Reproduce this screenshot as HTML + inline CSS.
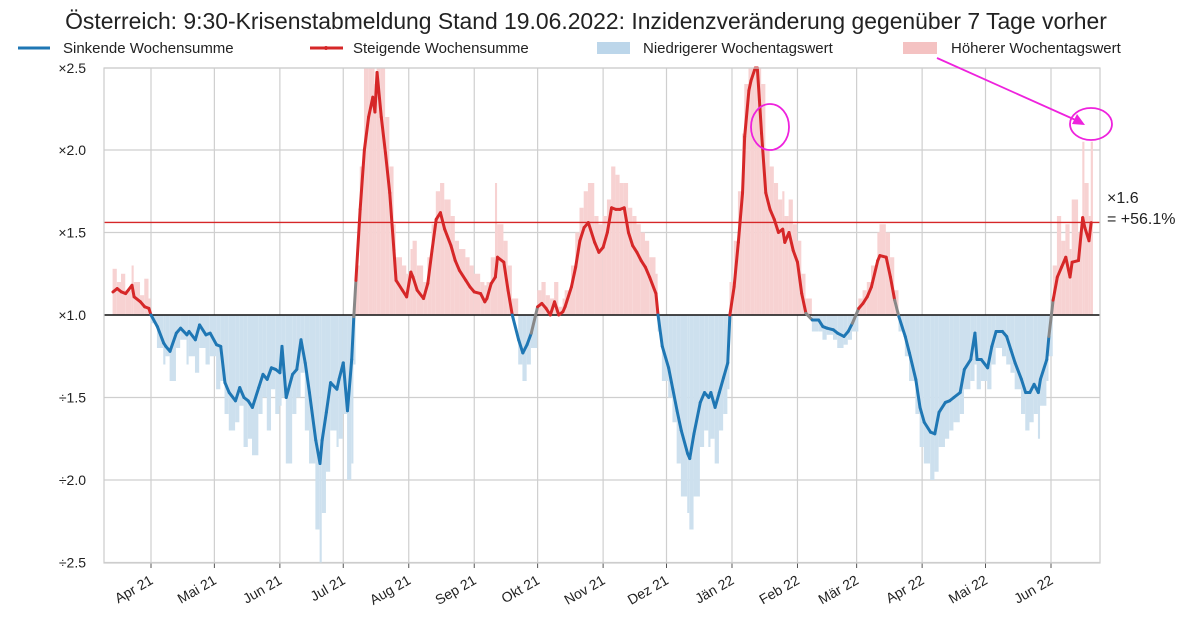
<!DOCTYPE html>
<html><head><meta charset="utf-8"><style>
body{margin:0;background:#fff;width:1200px;height:632px;overflow:hidden;font-family:"Liberation Sans",sans-serif}
</style></head><body>
<svg id="chart" width="1200" height="632" xmlns="http://www.w3.org/2000/svg" font-family="Liberation Sans, sans-serif">
<text x="586" y="29" font-size="22.9" text-anchor="middle" fill="#222">Österreich: 9:30-Krisenstabmeldung Stand 19.06.2022: Inzidenzveränderung gegenüber 7 Tage vorher</text>
<g font-size="15" fill="#222">
<line x1="18" y1="48" x2="50" y2="48" stroke="#1f77b4" stroke-width="3"/>
<text x="63" y="53">Sinkende Wochensumme</text>
<line x1="310" y1="48" x2="343" y2="48" stroke="#d62728" stroke-width="3"/>
<circle cx="326" cy="48" r="2" fill="#d62728"/>
<text x="353" y="53">Steigende Wochensumme</text>
<rect x="597" y="42" width="33" height="12" fill="#bcd6ea"/>
<text x="643" y="53">Niedrigerer Wochentagswert</text>
<rect x="903" y="42" width="34" height="12" fill="#f4c2c2"/>
<text x="951" y="53">Höherer Wochentagswert</text>
</g>
<g id="grid"></g><g id="bars"></g><g id="lines"></g><g id="axes"></g>
<rect x="104" y="68" width="996" height="495" fill="none" stroke="#ccc" stroke-width="1.2"/>
<text x="1107" y="203" font-size="16" fill="#222">×1.6</text>
<text x="1107" y="224" font-size="16" fill="#222">= +56.1%</text>
<g stroke="#ee22dd" stroke-width="1.8" fill="none">
<ellipse cx="770" cy="127" rx="19" ry="23"/>
<ellipse cx="1091" cy="124" rx="21" ry="16"/>
<line x1="937" y1="58" x2="1080" y2="122"/>
<polygon points="1085,125 1072,124 1077,114" fill="#ee22dd" stroke="none"/>
</g>
</svg>
<script>
// days since 1 Apr 2021; values: +v means ×(1+v), -v means ÷(1+v)
const days=[-18,-16,-14,-12,-9,-8,-5,-3,-1,0,3,6,7,9,12,14,17,18,21,23,26,28,31,33,35,37,40,42,44,46,48,51,53,55,57,59,61,62,64,67,69,71,73,75,78,80,81,83,85,88,89,91,93,95,96,97,99,101,103,105,106,107,109,111,113,115,116,119,121,123,124,126,129,131,133,135,137,139,142,144,146,149,151,153,156,158,159,161,163,164,167,169,171,174,176,178,180,183,185,187,189,191,193,195,196,199,201,203,205,207,210,212,214,216,218,220,222,224,226,228,230,232,234,236,239,240,242,245,247,249,251,254,255,257,260,262,264,265,267,269,271,273,274,276,278,280,281,283,284,286,287,288,289,291,293,295,297,299,300,302,304,306,308,310,313,316,318,320,323,325,328,330,332,335,337,339,341,344,345,348,350,352,354,357,359,362,364,366,369,371,373,376,378,380,383,385,388,390,391,393,396,398,400,403,405,407,409,412,414,416,418,420,421,424,425,427,429,431,433,435,436,439,441,442,444,445];
const weekly=[.14,.16,.14,.13,.18,.11,.08,.05,.04,0,-.07,-.17,-.19,-.22,-.11,-.08,-.12,-.10,-.15,-.06,-.12,-.11,-.18,-.19,-.41,-.47,-.52,-.44,-.50,-.52,-.56,-.44,-.36,-.39,-.32,-.33,-.35,-.19,-.50,-.36,-.33,-.15,-.29,-.47,-.76,-.90,-.76,-.59,-.41,-.45,-.39,-.29,-.58,-.27,-.01,.21,.64,1.0,1.2,1.32,1.23,1.47,1.2,.98,.74,.39,.21,.15,.11,.26,.23,.15,.10,.19,.39,.58,.62,.52,.42,.33,.27,.21,.17,.14,.13,.08,.10,.19,.23,.35,.32,.15,0,-.15,-.23,-.18,-.11,.05,.07,.04,0,.08,0,.02,.05,.17,.29,.45,.53,.56,.44,.38,.41,.50,.65,.64,.64,.65,.50,.42,.38,.33,.29,.23,.13,0,-.19,-.32,-.45,-.58,-.70,-.84,-.87,-.72,-.53,-.47,-.50,-.47,-.56,-.47,-.38,-.29,0,.17,.44,.74,1.08,1.36,1.42,1.6,1.58,1.30,1.10,.74,.64,.58,.50,.52,.44,.50,.39,.32,.13,.01,-.03,-.03,-.07,-.08,-.09,-.11,-.13,-.10,-.05,.04,.07,.11,.17,.33,.36,.35,.23,.09,-.01,-.13,-.23,-.39,-.56,-.65,-.71,-.72,-.59,-.53,-.52,-.50,-.47,-.33,-.27,-.11,-.27,-.27,-.32,-.19,-.10,-.10,-.13,-.21,-.29,-.39,-.47,-.47,-.42,-.47,-.39,-.27,-.13,.09,.23,.29,.35,.23,.32,.33,.59,.53,.45,.56];
const daily=[.28,.2,.25,.15,.3,.2,.12,.22,.1,-.05,-.2,-.3,-.25,-.4,-.2,-.15,-.3,-.25,-.35,-.2,-.3,-.25,-.45,-.4,-.6,-.7,-.65,-.55,-.8,-.75,-.85,-.6,-.5,-.7,-.45,-.6,-.55,-.5,-.9,-.6,-.5,-.35,-.7,-.9,-1.3,-1.5,-1.2,-.95,-.7,-.8,-.75,-.6,-1.0,-.9,-.3,.3,.9,1.5,1.5,1.5,1.4,1.5,1.5,1.2,.9,.55,.35,.3,.25,.4,.45,.3,.2,.35,.55,.75,.8,.7,.6,.45,.4,.35,.3,.25,.2,.18,.2,.35,.8,.55,.45,.3,.1,-.3,-.4,-.3,-.2,.15,.2,.12,.1,.2,.05,.1,.15,.3,.5,.65,.75,.8,.6,.55,.6,.7,.9,.85,.8,.8,.65,.6,.55,.5,.45,.35,.25,-.1,-.4,-.5,-.65,-.9,-1.1,-1.2,-1.3,-1.1,-.8,-.7,-.8,-.75,-.9,-.7,-.6,-.45,.2,.45,.75,1.1,1.4,1.5,1.5,1.5,1.5,1.5,1.4,1.0,.9,.8,.7,.75,.6,.7,.55,.45,.25,.1,-.1,-.1,-.15,-.12,-.15,-.2,-.18,-.15,-.1,.1,.15,.2,.3,.5,.55,.5,.35,.15,-.1,-.25,-.4,-.6,-.8,-.9,-1.0,-.95,-.8,-.75,-.7,-.65,-.6,-.45,-.4,-.3,-.45,-.4,-.45,-.3,-.2,-.25,-.3,-.35,-.45,-.6,-.7,-.65,-.6,-.75,-.55,-.4,-.25,.3,.6,.45,.55,.4,.7,.5,1.05,.8,.6,1.05];
const yTicks=[1.5,1.0,0.5,0,-0.5,-1.0,-1.5];
const yLabels=["×2.5","×2.0","×1.5","×1.0","÷1.5","÷2.0","÷2.5"];
const monthDays=[0,30,61,91,122,153,183,214,244,275,306,334,365,395,426];
const monthLabels=["Apr 21","Mai 21","Jun 21","Jul 21","Aug 21","Sep 21","Okt 21","Nov 21","Dez 21","Jän 22","Feb 22","Mär 22","Apr 22","Mai 22","Jun 22"];
const refValue=0.561;

const NS="http://www.w3.org/2000/svg";
const X0=151,PXD=900/426,Y0=315,PXU=165,TOP=68,BOT=563;
const xs=d=>X0+d*PXD;
const ys=v=>Math.max(TOP,Math.min(BOT,Y0-v*PXU));
function mk(tag,parent,attrs){const e=document.createElementNS(NS,tag);for(const k in attrs)e.setAttribute(k,attrs[k]);document.getElementById(parent).appendChild(e);return e;}

yTicks.forEach((t,i)=>{
  const g=mk('line','grid',{x1:104,x2:1100,y1:ys(t),y2:ys(t),stroke:'#cfcfcf','stroke-width':1.2});
  
  
  const tx=mk('text','axes',{x:86,y:ys(t)+5,'font-size':14,'text-anchor':'end',fill:'#222'});
  tx.textContent=yLabels[i];
  
  
});
monthDays.forEach((d,i)=>{
  const x=xs(d);
  const g=mk('line','grid',{x1:x,x2:x,y1:TOP,y2:BOT,stroke:'#cfcfcf','stroke-width':1.2});
  
  
  const tk=mk('line','axes',{x1:x,x2:x,y1:BOT,y2:BOT+5,stroke:'#555'});
  
  
  const tx=mk('text','axes',{x:x+3,y:BOT+20,'font-size':14,'text-anchor':'end',fill:'#222',transform:`rotate(-30 ${x+3} ${BOT+20})`});
  tx.textContent=monthLabels[i];
  
  
});
// bars
daily.forEach((v,i)=>{
  const x=xs(days[i]);
  const nx=i<days.length-1?xs(days[i+1]):x+2.2;
  const w=Math.max(1.5,nx-x);
  const b=mk('rect','bars',{x:x-0.4,width:w,y:Math.min(Y0,ys(v)),height:Math.abs(ys(v)-Y0),fill:v>=0?'#f7d2d2':'#cde0ee'});
  
  
});
const zl=mk('line','lines',{x1:104,x2:1100,y1:Y0,y2:Y0,stroke:'#111','stroke-width':1.5});


const rl=mk('line','lines',{x1:104,x2:1100,y1:ys(refValue),y2:ys(refValue),stroke:'#d62728','stroke-width':1.3});


for(let i=0;i<weekly.length-1;i++){
  const a=weekly[i],b=weekly[i+1];
  const c=(a>=0&&b>=0)?'#d62728':(a<=0&&b<=0)?'#1f77b4':'#888';
  const s=mk('line','lines',{x1:xs(days[i]),y1:ys(a),x2:xs(days[i+1]),y2:ys(b),stroke:c,'stroke-width':3,'stroke-linecap':'round'});
  
  
}
</script>
</body></html>
